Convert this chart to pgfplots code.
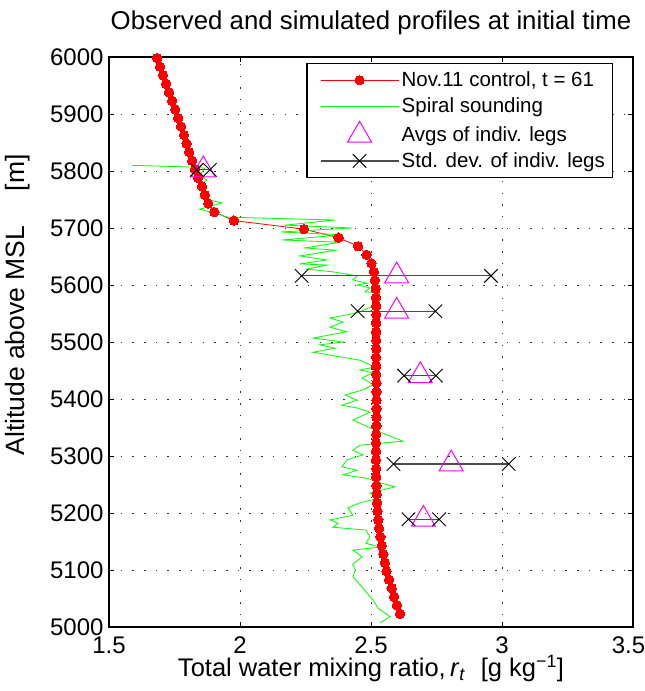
\documentclass[border=0pt]{standalone}
\usepackage{fontspec}
\setmainfont{Liberation Sans}
\usepackage{pgfplots}
\pgfplotsset{compat=1.18}
\definecolor{sgreen}{rgb}{0,1,0}
\definecolor{smag}{rgb}{1,0,1}
\begin{document}
\begin{tikzpicture}
\begin{axis}[
  scale only axis, width=524pt, height=570pt,
  xmin=1.5, xmax=3.5, ymin=5000, ymax=6000,
  xtick={1.5,2,2.5,3,3.5},
  xticklabels={1.5,2,2.5,3,\hspace*{-9pt}3.5},
  ytick={5000,5100,5200,5300,5400,5500,5600,5700,5800,5900,6000},
  scaled y ticks=false,
  /pgf/number format/assume math mode=true,
  yticklabel style={/pgf/number format/1000 sep={}},
  tick label style={font=\fontsize{24}{28}\selectfont},
  xticklabel style={yshift=-6pt},
  yticklabel style={xshift=-2pt},
  major tick length=5pt,
  tick style={black, line width=0.8pt},
  axis line style={line width=1.2pt},
  grid=major,
  major grid style={black!80, line width=0.9pt, dash pattern=on 1.5pt off 10.2pt},
  title={Observed and simulated profiles at initial time},
  title style={font=\fontsize{25.8}{30}\selectfont, yshift=13pt},
  xlabel={Total water mixing ratio,\,\textit{r}\textsubscript{\textit{t}}\hspace{0.6em}[g kg\textsuperscript{−1}]},
  xlabel style={font=\fontsize{25.5}{30}\selectfont, yshift=5pt},
  ylabel={Altitude above MSL\hspace{1.3em}[m]},
  ylabel style={font=\fontsize{26.5}{30}\selectfont, at={(ticklabel cs:0.565)}, yshift=13pt},
  legend cell align=left,
  legend style={at={(1,1)}, anchor=north east, xshift=-20pt, yshift=-6pt,
    font=\fontsize{20.5}{24}\selectfont, line width=1.2pt,
    inner xsep=5pt, inner ysep=6pt, row sep=4.5pt,
    nodes={inner sep=2.5pt}},
  legend image code/.code={\path (-8pt,0pt); \draw[mark repeat=2,mark phase=2,#1] plot coordinates {(0pt,0pt) (39pt,0pt) (78pt,0pt)};},
]
% Nov.11 control, t = 61
\addplot[color=red, line width=0.8pt, mark=*, mark size=4.7pt, mark options={fill=red, draw=red, line width=0pt}] coordinates {
(1.684,5998) (1.695,5983) (1.706,5968) (1.718,5953) (1.729,5938) (1.741,5923)
(1.753,5908) (1.764,5893) (1.775,5878) (1.786,5863) (1.796,5848) (1.806,5833)
(1.817,5818) (1.828,5803) (1.840,5788) (1.855,5773) (1.866,5758) (1.879,5743)
(1.902,5728) (1.977,5713) (2.244,5698) (2.376,5683) (2.451,5668) (2.483,5653)
(2.502,5638) (2.511,5623) (2.515,5608) (2.518,5593) (2.519,5578) (2.520,5563)
(2.520,5548) (2.520,5533) (2.520,5518) (2.520,5503) (2.520,5488) (2.520,5473)
(2.520,5458) (2.520,5443) (2.521,5428) (2.521,5413) (2.521,5398) (2.521,5383)
(2.521,5368) (2.521,5353) (2.520,5338) (2.519,5323) (2.519,5308) (2.519,5293)
(2.520,5278) (2.520,5263) (2.521,5248) (2.522,5233) (2.523,5218) (2.525,5203)
(2.528,5188) (2.531,5173) (2.536,5158) (2.541,5143) (2.547,5128) (2.553,5113)
(2.559,5098) (2.569,5083) (2.579,5068) (2.588,5053) (2.599,5038) (2.611,5023)
};
\addlegendentry{Nov.11 control, t = 61}
% Spiral sounding
\addplot[color=sgreen, line width=0.8pt] coordinates {
(1.588,5810) (1.809,5807) (1.866,5805) (1.847,5793) (1.874,5784) (1.840,5775)
(1.874,5761) (1.847,5753) (1.931,5744) (1.847,5733) (1.905,5726) (1.954,5719)
(2.363,5714) (2.172,5705) (2.427,5700) (2.156,5693) (2.393,5688) (2.160,5679)
(2.382,5675) (2.248,5665) (2.366,5661) (2.229,5651) (2.332,5644) (2.229,5637)
(2.332,5635) (2.256,5628) (2.355,5623) (2.447,5616) (2.431,5609) (2.458,5606)
(2.485,5603) (2.447,5600) (2.496,5595) (2.477,5588) (2.534,5586) (2.515,5577)
(2.534,5568) (2.447,5551) (2.344,5542) (2.393,5535) (2.344,5526) (2.408,5518)
(2.279,5507) (2.393,5500) (2.305,5495) (2.363,5489) (2.279,5482) (2.382,5474)
(2.458,5468) (2.515,5456) (2.458,5451) (2.508,5446) (2.466,5437) (2.508,5425)
(2.469,5416) (2.401,5407) (2.447,5398) (2.389,5389) (2.450,5384) (2.496,5377)
(2.431,5363) (2.489,5351) (2.534,5342) (2.622,5326) (2.458,5319) (2.431,5310)
(2.469,5302) (2.408,5293) (2.389,5281) (2.447,5275) (2.393,5267) (2.485,5261)
(2.534,5253) (2.592,5246) (2.496,5235) (2.534,5226) (2.458,5218) (2.412,5209)
(2.431,5196) (2.344,5188) (2.374,5182) (2.355,5175) (2.481,5170) (2.496,5158)
(2.481,5147) (2.534,5140) (2.431,5135) (2.466,5123) (2.430,5110) (2.440,5100)
(2.431,5088) (2.466,5070) (2.508,5047) (2.527,5033) (2.573,5018) (2.534,5007)
};
\addlegendentry{Spiral sounding}
% Avgs of indiv. legs
\addplot[only marks, mark=triangle, mark size=13.8pt, mark options={draw=smag, line width=1pt}] coordinates {
(1.860,5802) (2.598,5616) (2.598,5554) (2.688,5441) (2.806,5286) (2.700,5189)
};
\addlegendentry{Avgs of indiv. legs}
% Std. dev. of indiv. legs
\addplot[color=black!70, line width=1.2pt, mark=x, mark size=9.5pt, mark options={draw=black, line width=0.9pt}] coordinates {(1.835,5802) (1.885,5802)};
\addlegendentry{Std. dev. of indiv. legs}
\addplot[forget plot, color=black!70, line width=1.2pt, mark=x, mark size=9.5pt, mark options={draw=black, line width=0.9pt}] coordinates {(2.235,5616) (2.958,5616)};
\addplot[forget plot, color=black!70, line width=1.2pt, mark=x, mark size=9.5pt, mark options={draw=black, line width=0.9pt}] coordinates {(2.449,5554) (2.746,5554)};
\addplot[forget plot, color=black!70, line width=1.2pt, mark=x, mark size=9.5pt, mark options={draw=black, line width=0.9pt}] coordinates {(2.626,5441) (2.748,5441)};
\addplot[forget plot, color=black!70, line width=1.2pt, mark=x, mark size=9.5pt, mark options={draw=black, line width=0.9pt}] coordinates {(2.586,5286) (3.026,5286)};
\addplot[forget plot, color=black!70, line width=1.2pt, mark=x, mark size=9.5pt, mark options={draw=black, line width=0.9pt}] coordinates {(2.643,5189) (2.760,5189)};
\end{axis}
\pgfresetboundingbox
\path[use as bounding box] ([shift={(-109pt,-64pt)}]current axis.south west) rectangle ([shift={(12pt,57pt)}]current axis.north east);
\end{tikzpicture}
\end{document}
